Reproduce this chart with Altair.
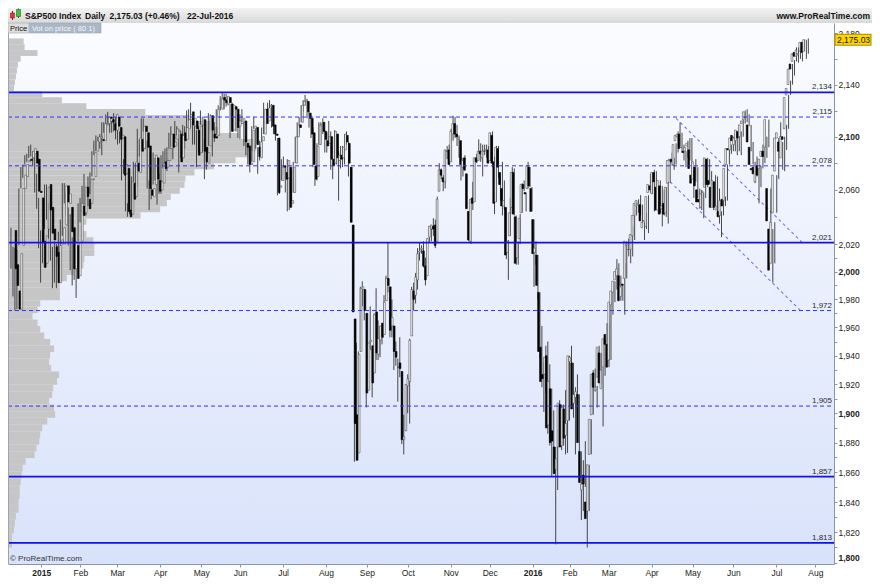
import altair as alt
import pandas as pd

FONT = "Liberation Sans"

# ---------------- data ----------------
HOLIDAYS = ["2014-12-25", "2015-01-01", "2015-01-19", "2015-02-16", "2015-04-03",
            "2015-05-25", "2015-07-03", "2015-09-07", "2015-11-26", "2015-12-25",
            "2016-01-01", "2016-01-18", "2016-02-15", "2016-03-25", "2016-05-30",
            "2016-07-04"]

opens = [
    # Dec 2014
    2030, 2005, 1986, 1973, 2019, 2061, 2070, 2081, 2083, 2084, 2087, 2089, 2083,
    # Jan 2015
    2059, 2054, 2022, 2006, 2031, 2064, 2047, 2031, 2018, 2014, 1992, 2020, 2020, 2034, 2063, 2050, 2047, 2032, 2002, 2019,
    # Feb
    1997, 2022, 2048, 2043, 2062, 2053, 2050, 2068, 2070, 2089, 2096, 2099, 2098, 2097, 2109, 2110, 2115, 2113, 2110,
    # Mar
    2105, 2115, 2107, 2099, 2100, 2072, 2076, 2045, 2042, 2065, 2055, 2080, 2073, 2098, 2091, 2108, 2103, 2093, 2060, 2055, 2064, 2084,
    # Apr
    2067, 2060, 2065, 2081, 2077, 2082, 2091, 2102, 2093, 2098, 2104, 2102, 2084, 2103, 2098, 2106, 2113, 2119, 2108, 2112, 2105,
    # May
    2088, 2109, 2113, 2092, 2080, 2093, 2116, 2102, 2100, 2101, 2122, 2121, 2130, 2128, 2125, 2130, 2125, 2105, 2123, 2121,
    # Jun
    2108, 2110, 2111, 2112, 2095, 2093, 2079, 2081, 2106, 2107, 2092, 2084, 2097, 2102, 2121, 2112, 2123, 2124, 2109, 2102, 2099, 2062,
    # Jul
    2067, 2078, 2073, 2069, 2077, 2050, 2058, 2080, 2100, 2109, 2111, 2124, 2127, 2127, 2118, 2114, 2103, 2078, 2070, 2094, 2108, 2111,
    # Aug
    2104, 2097, 2095, 2100, 2083, 2080, 2102, 2082, 2086, 2084, 2090, 2101, 2095, 2077, 2034, 1966, 1899, 1873, 1943, 1987, 1987,
    # Sep
    1970, 1916, 1950, 1947, 1928, 1971, 1941, 1951, 1963, 1955, 1979, 1995, 1989, 1961, 1961, 1943, 1932, 1935, 1929, 1882, 1888,
    # Oct
    1919, 1922, 1954, 1986, 1983, 1994, 2014, 2016, 2015, 2004, 1997, 2025, 2031, 2033, 2034, 2022, 2059, 2075, 2069, 2066, 2089, 2090,
    # Nov
    2081, 2102, 2110, 2102, 2098, 2097, 2077, 2084, 2072, 2044, 2022, 2054, 2051, 2084, 2082, 2089, 2084, 2089, 2089, 2090,
    # Dec
    2082, 2101, 2081, 2051, 2091, 2073, 2061, 2048, 2047, 2014, 2026, 2047, 2073, 2040, 2010, 2024, 2043, 2064, 2058, 2061, 2077, 2061,
    # Jan 2016
    2038, 2014, 2012, 1985, 1946, 1927, 1927, 1940, 1892, 1917, 1888, 1877, 1862, 1877, 1906, 1878, 1903, 1885, 1895,
    # Feb
    1936, 1935, 1907, 1911, 1913, 1874, 1848, 1858, 1840, 1834, 1872, 1899, 1928, 1916, 1925, 1942, 1917, 1932, 1955, 1948,
    # Mar
    1937, 1976, 1985, 1994, 1997, 1997, 1982, 1991, 1995, 2019, 2016, 2016, 2026, 2041, 2048, 2049, 2049, 2032, 2037, 2033, 2058, 2063,
    # Apr
    2057, 2073, 2062, 2045, 2063, 2046, 2050, 2043, 2065, 2082, 2083, 2079, 2097, 2100, 2102, 2092, 2089, 2089, 2093, 2090, 2071,
    # May
    2068, 2077, 2060, 2053, 2047, 2058, 2062, 2083, 2067, 2062, 2047, 2066, 2045, 2044, 2041, 2053, 2052, 2079, 2091, 2090, 2101,
    # Jun
    2094, 2097, 2104, 2100, 2110, 2113, 2115, 2109, 2092, 2076, 2077, 2066, 2078, 2076, 2085, 2089, 2092, 2061, 2031, 2006, 2043, 2074,
    # Jul
    2099, 2096, 2084, 2100, 2106, 2132, 2140, 2156, 2158, 2165, 2162, 2163, 2166, 2173, 2166,
]

highs = [
    2032, 2018, 2017, 2016, 2061, 2077, 2079, 2086, 2087, 2093, 2094, 2089, 2086,
    2072, 2054, 2030, 2030, 2064, 2064, 2050, 2057, 2018, 2022, 2020, 2029, 2038, 2065, 2065, 2058, 2047, 2042, 2025, 2023,
    2022, 2050, 2054, 2063, 2072, 2056, 2070, 2073, 2089, 2097, 2101, 2100, 2102, 2111, 2111, 2117, 2119, 2115, 2112,
    2118, 2115, 2107, 2104, 2100, 2083, 2076, 2050, 2066, 2070, 2081, 2080, 2106, 2098, 2114, 2114, 2107, 2097, 2067, 2062, 2088, 2084,
    2067, 2072, 2086, 2089, 2091, 2092, 2103, 2108, 2098, 2112, 2108, 2102, 2104, 2109, 2108, 2120, 2121, 2126, 2116, 2113, 2105,
    2108, 2120, 2115, 2098, 2092, 2118, 2117, 2105, 2111, 2121, 2124, 2131, 2134, 2133, 2133, 2131, 2125, 2126, 2123, 2122,
    2117, 2117, 2121, 2112, 2101, 2093, 2086, 2108, 2115, 2107, 2092, 2097, 2107, 2126, 2121, 2126, 2128, 2125, 2116, 2108, 2099, 2075,
    2083, 2085, 2078, 2083, 2077, 2075, 2081, 2100, 2111, 2115, 2124, 2128, 2132, 2129, 2119, 2116, 2107, 2078, 2095, 2111, 2111, 2114,
    2105, 2103, 2112, 2104, 2083, 2105, 2102, 2089, 2093, 2093, 2102, 2104, 2096, 2077, 2034, 1966, 1949, 1943, 1989, 1993, 1987,
    1970, 1949, 1975, 1947, 1970, 1988, 1965, 1961, 1963, 1983, 1997, 2021, 1989, 1980, 1961, 1950, 1938, 1953, 1929, 1899, 1920,
    1927, 1952, 1989, 1992, 1999, 2017, 2021, 2019, 2022, 2010, 2024, 2033, 2034, 2039, 2038, 2055, 2080, 2076, 2071, 2090, 2093, 2094,
    2106, 2116, 2115, 2109, 2101, 2097, 2084, 2086, 2072, 2044, 2053, 2066, 2084, 2087, 2098, 2095, 2094, 2094, 2094, 2093,
    2103, 2104, 2085, 2093, 2093, 2073, 2081, 2067, 2047, 2023, 2054, 2077, 2076, 2041, 2022, 2042, 2065, 2067, 2058, 2081, 2077, 2062,
    2038, 2022, 2012, 1985, 1961, 1935, 1947, 1950, 1934, 1917, 1902, 1877, 1889, 1909, 1906, 1906, 1916, 1902, 1940,
    1947, 1935, 1918, 1927, 1913, 1874, 1868, 1881, 1847, 1865, 1896, 1930, 1931, 1919, 1947, 1942, 1932, 1952, 1963, 1963,
    1978, 1986, 1993, 2009, 2006, 1997, 1990, 2006, 2022, 2024, 2017, 2033, 2046, 2052, 2053, 2056, 2049, 2036, 2043, 2056, 2072, 2067,
    2075, 2074, 2062, 2067, 2063, 2060, 2062, 2066, 2083, 2088, 2084, 2095, 2104, 2111, 2103, 2094, 2089, 2097, 2099, 2099, 2074,
    2083, 2077, 2061, 2060, 2058, 2064, 2084, 2083, 2074, 2066, 2071, 2070, 2061, 2044, 2058, 2055, 2079, 2094, 2094, 2100, 2103,
    2100, 2106, 2104, 2113, 2120, 2121, 2117, 2109, 2096, 2081, 2085, 2079, 2078, 2094, 2094, 2100, 2113, 2061, 2031, 2036, 2071, 2099,
    2111, 2096, 2100, 2109, 2132, 2143, 2156, 2159, 2169, 2169, 2169, 2165, 2175, 2175, 2176,
]

lows = [
    2002, 1982, 1972, 1973, 2019, 2061, 2069, 2079, 2081, 2084, 2085, 2078, 2058,
    2046, 2017, 1992, 2006, 2031, 2038, 2024, 2008, 1988, 1992, 1988, 2005, 2013, 2026, 2050, 2041, 2019, 2001, 1990, 1994,
    1981, 2022, 2036, 2043, 2049, 2041, 2048, 2057, 2070, 2086, 2089, 2092, 2091, 2086, 2103, 2104, 2109, 2103, 2103,
    2104, 2098, 2094, 2095, 2067, 2072, 2044, 2040, 2042, 2045, 2055, 2065, 2062, 2085, 2091, 2104, 2091, 2061, 2045, 2053, 2064, 2067,
    2049, 2057, 2057, 2076, 2075, 2074, 2091, 2092, 2083, 2098, 2101, 2073, 2084, 2094, 2091, 2104, 2112, 2107, 2094, 2094, 2077,
    2088, 2109, 2088, 2068, 2075, 2093, 2104, 2085, 2096, 2101, 2115, 2120, 2123, 2121, 2123, 2124, 2099, 2105, 2112, 2104,
    2099, 2098, 2111, 2093, 2086, 2079, 2073, 2081, 2106, 2091, 2072, 2082, 2088, 2102, 2109, 2112, 2119, 2107, 2102, 2097, 2056, 2057,
    2067, 2071, 2058, 2044, 2045, 2050, 2058, 2080, 2099, 2102, 2111, 2119, 2124, 2114, 2107, 2099, 2077, 2063, 2067, 2094, 2094, 2102,
    2088, 2088, 2095, 2075, 2068, 2080, 2079, 2052, 2076, 2077, 2079, 2094, 2070, 2036, 1971, 1867, 1868, 1873, 1943, 1975, 1965,
    1904, 1916, 1944, 1911, 1928, 1937, 1937, 1939, 1948, 1955, 1979, 1985, 1953, 1953, 1930, 1933, 1908, 1925, 1879, 1872, 1888,
    1900, 1893, 1954, 1972, 1977, 1987, 2008, 2013, 2003, 1990, 1997, 2021, 2022, 2026, 2017, 2022, 2059, 2068, 2059, 2061, 2083, 2079,
    2081, 2097, 2099, 2093, 2084, 2067, 2070, 2074, 2046, 2022, 2020, 2045, 2051, 2080, 2082, 2081, 2070, 2086, 2084, 2080,
    2082, 2077, 2042, 2051, 2069, 2052, 2041, 2045, 2009, 1994, 2026, 2042, 2041, 2005, 2005, 2020, 2043, 2059, 2044, 2061, 2062, 2044,
    1989, 2005, 1980, 1938, 1918, 1901, 1914, 1886, 1878, 1857, 1864, 1812, 1848, 1877, 1875, 1878, 1872, 1873, 1895,
    1920, 1897, 1872, 1900, 1872, 1828, 1834, 1850, 1810, 1834, 1872, 1899, 1915, 1904, 1925, 1920, 1891, 1926, 1946, 1932,
    1937, 1969, 1978, 1987, 1990, 1979, 1979, 1969, 1995, 2011, 2006, 2011, 2023, 2041, 2043, 2041, 2035, 2023, 2031, 2028, 2058, 2057,
    2044, 2062, 2042, 2043, 2033, 2041, 2040, 2035, 2065, 2078, 2075, 2079, 2088, 2093, 2088, 2082, 2077, 2084, 2082, 2071, 2054,
    2066, 2054, 2046, 2045, 2039, 2054, 2062, 2064, 2054, 2045, 2047, 2041, 2035, 2025, 2041, 2048, 2052, 2079, 2087, 2089, 2089,
    2086, 2089, 2086, 2100, 2110, 2111, 2108, 2089, 2079, 2065, 2070, 2050, 2062, 2076, 2080, 2084, 2092, 2033, 1992, 2006, 2043, 2068,
    2098, 2075, 2074, 2090, 2106, 2132, 2140, 2147, 2158, 2157, 2160, 2158, 2166, 2160, 2164,
]

closes = [
    2002, 1990, 1973, 2013, 2061, 2071, 2079, 2082, 2082, 2089, 2091, 2080, 2059,
    2058, 2021, 2003, 2026, 2062, 2045, 2028, 2023, 2011, 1992, 2019, 2023, 2032, 2063, 2051, 2057, 2029, 2002, 2021, 1995,
    2021, 2050, 2041, 2062, 2055, 2046, 2068, 2068, 2088, 2097, 2100, 2100, 2097, 2110, 2110, 2115, 2114, 2111, 2105,
    2117, 2108, 2098, 2101, 2071, 2079, 2044, 2040, 2066, 2053, 2081, 2074, 2099, 2089, 2108, 2104, 2092, 2061, 2056, 2061, 2086, 2068,
    2059, 2066, 2080, 2076, 2082, 2091, 2102, 2092, 2096, 2106, 2105, 2081, 2101, 2097, 2107, 2113, 2117, 2109, 2114, 2106, 2086,
    2108, 2115, 2089, 2081, 2088, 2116, 2105, 2099, 2099, 2121, 2122, 2129, 2128, 2126, 2131, 2126, 2104, 2124, 2121, 2107,
    2112, 2110, 2114, 2096, 2092, 2079, 2080, 2105, 2108, 2094, 2085, 2096, 2100, 2121, 2110, 2122, 2124, 2108, 2102, 2101, 2058, 2063,
    2077, 2077, 2068, 2082, 2047, 2052, 2077, 2100, 2109, 2107, 2124, 2127, 2128, 2119, 2114, 2102, 2079, 2068, 2093, 2109, 2109, 2104,
    2098, 2093, 2100, 2083, 2078, 2104, 2084, 2086, 2083, 2092, 2102, 2096, 2080, 2036, 1971, 1893, 1868, 1941, 1988, 1989, 1972,
    1914, 1949, 1951, 1921, 1969, 1942, 1952, 1961, 1953, 1978, 1995, 1990, 1958, 1967, 1943, 1939, 1932, 1931, 1882, 1884, 1920,
    1924, 1951, 1987, 1980, 1996, 2013, 2015, 2017, 2004, 1994, 2024, 2033, 2034, 2031, 2019, 2053, 2075, 2071, 2066, 2090, 2089, 2079,
    2104, 2110, 2102, 2100, 2099, 2079, 2082, 2075, 2046, 2023, 2053, 2050, 2084, 2081, 2089, 2087, 2089, 2089, 2090, 2080,
    2103, 2080, 2050, 2092, 2077, 2064, 2048, 2052, 2012, 2022, 2043, 2073, 2042, 2006, 2021, 2039, 2064, 2061, 2057, 2078, 2063, 2044,
    2013, 2017, 1990, 1943, 1922, 1924, 1939, 1890, 1922, 1880, 1881, 1859, 1869, 1907, 1877, 1904, 1883, 1893, 1940,
    1939, 1903, 1913, 1915, 1880, 1853, 1852, 1852, 1829, 1865, 1896, 1927, 1918, 1918, 1946, 1921, 1930, 1952, 1948, 1932,
    1978, 1986, 1993, 2000, 2002, 1979, 1989, 1990, 2022, 2020, 2016, 2027, 2041, 2050, 2052, 2050, 2037, 2036, 2037, 2055, 2064, 2060,
    2073, 2066, 2045, 2067, 2042, 2048, 2042, 2062, 2082, 2083, 2081, 2094, 2101, 2102, 2091, 2092, 2088, 2092, 2095, 2076, 2065,
    2081, 2063, 2051, 2051, 2057, 2059, 2084, 2064, 2064, 2047, 2067, 2047, 2048, 2040, 2052, 2048, 2076, 2091, 2090, 2099, 2097,
    2099, 2105, 2099, 2109, 2112, 2119, 2115, 2096, 2079, 2075, 2072, 2078, 2071, 2083, 2089, 2085, 2113, 2037, 2001, 2036, 2071, 2099,
    2103, 2089, 2100, 2098, 2130, 2137, 2152, 2152, 2164, 2162, 2167, 2164, 2173, 2165, 2175.03,
]

# volume-on-price profile, 80 bins from the lowest low to the highest high (relative, max = 100)
profile_volume = [
    1.6, 1.6, 2.4, 2.8, 3.2, 4.3, 4.3, 4.7, 4.7, 5.1,
    5.5, 5.9, 7.1, 10.7, 11.5, 12.6, 13.0, 13.8, 15.8, 19.0,
    18.6, 16.6, 17.8, 18.2, 19.8, 20.6, 17.4, 16.6, 17.0, 18.6,
    17.0, 14.6, 13.0, 11.9, 9.9, 11.9, 13.0, 20.9, 20.9, 20.9,
    23.7, 26.5, 30.4, 30.8, 34.8, 34.8, 34.4, 31.6, 30.4, 31.6,
    53.4, 61.3, 64.0, 65.6, 69.2, 71.1, 71.5, 75.1, 83.0, 91.7,
    96.8, 100.0, 98.8, 92.9, 85.0, 83.0, 73.1, 55.3, 31.6, 21.7,
    13.8, 2.4, 2.8, 3.2, 3.6, 4.0, 5.1, 11.9, 6.7, 6.3,
]

level_solid = [2134, 2021, 1857, 1813]
level_dashed = [2115, 2078, 1972, 1905]

trend_line = ["upper", "upper", "lower", "lower"]
trend_date = ["2016-04-18", "2016-07-19", "2016-04-13", "2016-07-18"]
trend_price = [2114, 2021, 2066, 1972]

y_tick_values = [2180, 2160, 2140, 2120, 2100, 2080, 2060, 2040, 2020, 2010, 2000,
                 1990, 1980, 1970, 1960, 1950, 1940, 1930, 1920, 1910, 1900, 1890,
                 1880, 1870, 1860, 1850, 1840, 1830, 1820, 1810, 1800]
y_label_values = [2180, 2140, 2100, 2060, 2020, 2000, 1980, 1960, 1940, 1920, 1900,
                  1880, 1860, 1840, 1820, 1800]
last_price = 2175.03

# ---------------- derived tables ----------------
all_days = [d for d in pd.bdate_range("2014-12-12", "2016-08-01")
            if d.strftime("%Y-%m-%d") not in HOLIDAYS]
n = len(closes)
day_index = {d.strftime("%Y-%m-%d"): k for k, d in enumerate(all_days)}

candles = pd.DataFrame({
    "i": list(range(n)),
    "open": opens, "high": highs, "low": lows, "close": closes,
})
candles["fillc"] = ["#000000" if c < o else "#ffffff" for o, c in zip(opens, closes)]
candles["strokec"] = ["#000000" if c < o else "#4a4a4a" for o, c in zip(opens, closes)]

month_idx, month_lab = [], []
prev = None
for k, d in enumerate(all_days):
    key = (d.year, d.month)
    if key != prev:
        if prev is not None:
            month_idx.append(k)
            month_lab.append(str(d.year) if d.month == 1 else d.strftime("%b"))
        prev = key
year_idx = [month_idx[k] for k, s in enumerate(month_lab) if s.isdigit()]

lo0, hi0 = min(lows), max(highs)
step = (hi0 - lo0) / len(profile_volume)
profile = pd.DataFrame({
    "lo": [lo0 + k * step for k in range(len(profile_volume))],
    "hi": [lo0 + (k + 1) * step for k in range(len(profile_volume))],
    "vol": profile_volume,
    "zero": 0.0,
})

levels_s = pd.DataFrame({"level": level_solid, "lab": [f"{v:,}" for v in level_solid]})
levels_d = pd.DataFrame({"level": level_dashed, "lab": [f"{v:,}" for v in level_dashed]})
levels_all = pd.concat([levels_s, levels_d])

trend = pd.DataFrame({"line": trend_line,
                      "i": [day_index[d] for d in trend_date],
                      "price": trend_price})

one = pd.DataFrame({"a": [0]})
tag = pd.DataFrame({"p": [last_price], "t": [f"{last_price:,.2f}"]})

# ---------------- layout ----------------
W, H = 826, 541
X_DOM = [-1.51, 417.0]
Y_DOM = [1799.2, 2188.2]


def xs():
    return alt.Scale(domain=X_DOM, nice=False, zero=False)


def ys():
    return alt.Scale(type="log", domain=Y_DOM, nice=False)


def box(x1, x2, y1, y2, fill, stroke=None, sw=0.0):
    kw = dict(fill=fill)
    if stroke:
        kw.update(stroke=stroke, strokeWidth=sw)
    return alt.Chart(one).mark_rect(**kw).encode(
        x=alt.value(x1), x2=alt.value(x2), y=alt.value(y1), y2=alt.value(y2))


def label(text, x, y, size=8.5, weight="normal", color="#111111", align="left", baseline="alphabetic"):
    return alt.Chart(one).mark_text(text=text, font=FONT, fontSize=size, fontWeight=weight,
                                    color=color, align=align, baseline=baseline).encode(
        x=alt.value(x), y=alt.value(y))


month_lab_js = "[" + ",".join(f"'{s}'" for s in month_lab) + "]"
month_idx_js = "[" + ",".join(str(v) for v in month_idx) + "]"
ylab_js = "[" + ",".join(str(v) for v in y_label_values) + "]"

x_axis = alt.Axis(
    values=month_idx, title=None, grid=False,
    labelExpr=f"{month_lab_js}[indexof({month_idx_js}, datum.value)]",
    labelFont=FONT, labelFontSize=8.5, labelColor="#222222", labelPadding=1,
    labelFontWeight={"condition": {"test": " || ".join(f"datum.value == {v}" for v in year_idx),
                                   "value": "bold"}, "value": "normal"},
    labelFlush=False, labelOverlap=False,
    tickSize=3, tickColor="#8797ab", domainColor="#8797ab",
)
y_axis = alt.Axis(
    orient="right", values=y_tick_values, title=None, grid=False,
    labelExpr=f"indexof({ylab_js}, datum.value) >= 0 ? format(datum.value, ',') : ''",
    labelFont=FONT, labelFontSize=8.5, labelColor="#222222", labelPadding=1,
    labelFontWeight={"condition": {"test": "datum.value % 100 == 0", "value": "bold"}, "value": "normal"},
    labelBaseline={"condition": {"test": "datum.value == 1800", "value": "bottom"}, "value": "middle"},
    labelFlush=False, labelOverlap=False,
    tickSize=3, tickColor="#8797ab", domainColor="#8797ab",
)

bg = alt.Chart(one).mark_rect(color={
    "gradient": "linear", "x1": 0, "y1": 0, "x2": 0, "y2": 1,
    "stops": [{"offset": 0, "color": "#fbfcff"}, {"offset": 1, "color": "#d8e2fa"}]}).encode(
    x=alt.value(0), x2=alt.value(W), y=alt.value(0), y2=alt.value(H))

prof_layer = alt.Chart(profile).mark_rect(color="#c6c6c6").encode(
    x=alt.X("zero:Q", scale=alt.Scale(domain=[0, 332.8], nice=False, zero=False), axis=None),
    x2="vol:Q",
    y=alt.Y("lo:Q", scale=ys(), axis=None),
    y2="hi:Q",
)

trend_layer = alt.Chart(trend).mark_line(color="#7474f8", strokeDash=[3, 3], strokeWidth=1.1).encode(
    x=alt.X("i:Q", scale=xs(), axis=None),
    y=alt.Y("price:Q", scale=ys(), axis=None),
    detail="line:N",
)

wicks = alt.Chart(candles).mark_rule(color="#333333", strokeWidth=0.9).encode(
    x=alt.X("i:Q", scale=xs(), axis=None),
    y=alt.Y("low:Q", scale=ys(), axis=None),
    y2="high:Q",
)

bodies = alt.Chart(candles).mark_bar(size=1.7, strokeWidth=0.6).encode(
    x=alt.X("i:Q", scale=xs(), axis=x_axis),
    y=alt.Y("open:Q", scale=ys(), axis=y_axis),
    y2="close:Q",
    fill=alt.Fill("fillc:N", scale=None),
    stroke=alt.Stroke("strokec:N", scale=None),
)

rules_s = alt.Chart(levels_s).mark_rule(color="#1010f0", strokeWidth=1.8).encode(
    y=alt.Y("level:Q", scale=ys(), axis=None), x=alt.value(0), x2=alt.value(W))
rules_d = alt.Chart(levels_d).mark_rule(color="#3232ff", strokeWidth=1, strokeDash=[4, 3]).encode(
    y=alt.Y("level:Q", scale=ys(), axis=None), x=alt.value(0), x2=alt.value(W))
level_text = alt.Chart(levels_all).mark_text(
    font=FONT, fontSize=8, color="#2b2b2b", align="right", baseline="bottom", dy=-1).encode(
    y=alt.Y("level:Q", scale=ys(), axis=None), x=alt.value(W - 2), text="lab:N")

left_border = alt.Chart(one).mark_rule(color="#9aa4b2", strokeWidth=1).encode(
    x=alt.value(0.5), y=alt.value(0), y2=alt.value(H))

header_band = alt.Chart(one).mark_rect(color={
    "gradient": "linear", "x1": 0, "y1": 0, "x2": 0, "y2": 1,
    "stops": [{"offset": 0, "color": "#f2f2f2"}, {"offset": 1, "color": "#d9d9d9"}]}).encode(
    x=alt.value(0), x2=alt.value(W + 38), y=alt.value(-15), y2=alt.value(0))

icon = [
    alt.Chart(one).mark_rule(color="#7a1a10", strokeWidth=1).encode(
        x=alt.value(4.5), y=alt.value(-12), y2=alt.value(-3)),
    box(2.5, 6.5, -10, -5, "#e2382a", "#8a1e14", 0.6),
    alt.Chart(one).mark_rule(color="#1f6e1f", strokeWidth=1).encode(
        x=alt.value(10.5), y=alt.value(-14.5), y2=alt.value(-5)),
    box(8.5, 12.5, -13.5, -6.5, "#3cc63c", "#1f6e1f", 0.6),
]

header_text = [
    label("S&P500 Index", 17, -4, weight="bold"),
    label("Daily", 77, -4, weight="bold"),
    label("2,175.03 (+0.46%)", 101.5, -4, weight="bold"),
    label("22-Jul-2016", 179, -4, weight="bold"),
    label("www.ProRealTime.com", W + 36, -4, weight="bold", align="right"),
]

tabs = [
    box(0, 21, 0, 10, "#dedede", "#a4a4a4", 0.6),
    label("Price", 2, 8, size=7.5, color="#111111"),
    box(21.5, 93, 0, 10, "#a9b7c6", "#98a6b6", 0.6),
    label("Vol on price ( 80 1)", 24, 8, size=7.5, color="#f4f6f9"),
]

watermark = label("\u00a9 ProRealTime.com", 2, H - 3, size=8, color="#333333")

tag_layers = [
    alt.Chart(tag).mark_rule(color="#a88c00", strokeWidth=12).encode(
        y=alt.Y("p:Q", scale=ys(), axis=None), x=alt.value(W + 0.5), x2=alt.value(W + 37.5)),
    alt.Chart(tag).mark_rule(color="#ffd500", strokeWidth=10).encode(
        y=alt.Y("p:Q", scale=ys(), axis=None), x=alt.value(W + 1.5), x2=alt.value(W + 36.5)),
    alt.Chart(tag).mark_text(font=FONT, fontSize=8.5, color="#111111", align="left", baseline="middle").encode(
        y=alt.Y("p:Q", scale=ys(), axis=None), x=alt.value(W + 3), text="t:N"),
]

chart = alt.layer(
    bg, prof_layer, trend_layer, wicks, bodies, rules_s, rules_d, level_text,
    watermark, left_border, header_band, *icon, *header_text, *tabs, *tag_layers,
).resolve_scale(x="independent", y="independent").properties(
    width=W, height=H,
    autosize=alt.AutoSizeParams(type="none"),
    padding={"left": 0, "top": 15, "right": 38, "bottom": 15},
    background="white",
).configure_view(strokeWidth=0)

chart.save("out.html", embed_options={"renderer": "svg", "actions": False})
